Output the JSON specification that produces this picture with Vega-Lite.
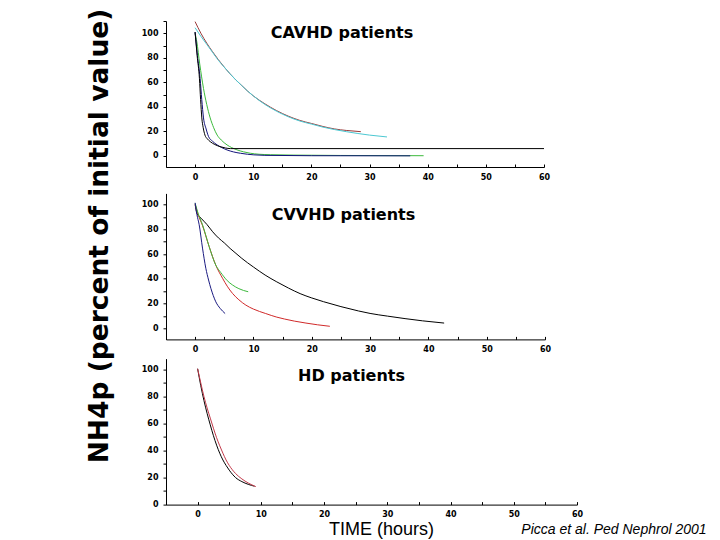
{
  "$schema": "https://vega.github.io/schema/vega-lite/v6.json",
  "background": "white",
  "padding": {"left": 85, "top": 8, "right": 5, "bottom": 3},
  "bounds": "flush",
  "spacing": 18.3,
  "resolve": {"scale": {"color": "independent"}},
  "config": {
    "view": {"stroke": null},
    "line": {"strokeWidth": 1, "interpolate": "monotone"},
    "axis": {
      "grid": false,
      "domainColor": "black",
      "domainWidth": 1,
      "tickColor": "black",
      "tickWidth": 1,
      "labelFont": "DejaVu Sans",
      "labelFontWeight": "bold",
      "labelFontSize": 8,
      "labelColor": "black",
      "labelFlush": false,
      "labelOverlap": false
    },
    "axisX": {"tickSize": -3, "labelPadding": 9},
    "axisY": {"tickSize": 3, "labelPadding": 5}
  },
  "datasets": {
    "cavhd": [
      {"series": "P3", "t": 0, "v": 100}, {"series": "P3", "t": 0.3, "v": 93}, {"series": "P3", "t": 0.8, "v": 75}, {"series": "P3", "t": 1.45, "v": 55}, {"series": "P3", "t": 2, "v": 42}, {"series": "P3", "t": 2.6, "v": 31}, {"series": "P3", "t": 3.2, "v": 23}, {"series": "P3", "t": 3.8, "v": 17}, {"series": "P3", "t": 4.5, "v": 13}, {"series": "P3", "t": 5.5, "v": 9}, {"series": "P3", "t": 6.3, "v": 6.8}, {"series": "P3", "t": 7.2, "v": 5}, {"series": "P3", "t": 8.3, "v": 3.4}, {"series": "P3", "t": 9.5, "v": 2.2}, {"series": "P3", "t": 11, "v": 1.4}, {"series": "P3", "t": 13, "v": 1}, {"series": "P3", "t": 17, "v": 0.7}, {"series": "P3", "t": 25, "v": 0.4}, {"series": "P3", "t": 39.3, "v": 0.2},
      {"series": "P4", "t": 0, "v": 101}, {"series": "P4", "t": 0.4, "v": 82}, {"series": "P4", "t": 0.87, "v": 63}, {"series": "P4", "t": 1.15, "v": 46}, {"series": "P4", "t": 1.45, "v": 31}, {"series": "P4", "t": 1.9, "v": 22}, {"series": "P4", "t": 2.3, "v": 16}, {"series": "P4", "t": 3, "v": 12}, {"series": "P4", "t": 3.8, "v": 9}, {"series": "P4", "t": 4.6, "v": 6.8}, {"series": "P4", "t": 5.5, "v": 4.9}, {"series": "P4", "t": 6.6, "v": 3.3}, {"series": "P4", "t": 7.8, "v": 2.2}, {"series": "P4", "t": 9, "v": 1.4}, {"series": "P4", "t": 10.1, "v": 0.9}, {"series": "P4", "t": 12, "v": 0.5}, {"series": "P4", "t": 20, "v": 0.2}, {"series": "P4", "t": 37, "v": 0.1},
      {"series": "P5", "t": 0, "v": 101}, {"series": "P5", "t": 0.35, "v": 82}, {"series": "P5", "t": 0.75, "v": 63}, {"series": "P5", "t": 0.95, "v": 46}, {"series": "P5", "t": 1.16, "v": 31}, {"series": "P5", "t": 1.4, "v": 23}, {"series": "P5", "t": 1.7, "v": 17}, {"series": "P5", "t": 2.1, "v": 14}, {"series": "P5", "t": 2.6, "v": 11.7}, {"series": "P5", "t": 3.4, "v": 9.3}, {"series": "P5", "t": 4.3, "v": 7.6}, {"series": "P5", "t": 5.2, "v": 6.5}, {"series": "P5", "t": 6.1, "v": 6}, {"series": "P5", "t": 60, "v": 6},
      {"series": "P1", "t": 0, "v": 109.5}, {"series": "P1", "t": 1, "v": 100}, {"series": "P1", "t": 2, "v": 92}, {"series": "P1", "t": 3, "v": 85}, {"series": "P1", "t": 4, "v": 78.5}, {"series": "P1", "t": 5, "v": 72.5}, {"series": "P1", "t": 6, "v": 67}, {"series": "P1", "t": 7, "v": 62}, {"series": "P1", "t": 8, "v": 57.5}, {"series": "P1", "t": 9, "v": 53}, {"series": "P1", "t": 10, "v": 49}, {"series": "P1", "t": 12, "v": 42.5}, {"series": "P1", "t": 14, "v": 37}, {"series": "P1", "t": 16, "v": 32.5}, {"series": "P1", "t": 18, "v": 29}, {"series": "P1", "t": 20, "v": 26.5}, {"series": "P1", "t": 22, "v": 24}, {"series": "P1", "t": 24, "v": 22}, {"series": "P1", "t": 26, "v": 20.8}, {"series": "P1", "t": 28.5, "v": 19.8},
      {"series": "P2", "t": 0, "v": 104.5}, {"series": "P2", "t": 1, "v": 97.5}, {"series": "P2", "t": 2, "v": 91}, {"series": "P2", "t": 3, "v": 84.5}, {"series": "P2", "t": 4, "v": 78}, {"series": "P2", "t": 5, "v": 72.5}, {"series": "P2", "t": 6, "v": 67}, {"series": "P2", "t": 7, "v": 62}, {"series": "P2", "t": 8, "v": 57.5}, {"series": "P2", "t": 9, "v": 53}, {"series": "P2", "t": 10, "v": 49}, {"series": "P2", "t": 12, "v": 42}, {"series": "P2", "t": 14, "v": 36.5}, {"series": "P2", "t": 16, "v": 32}, {"series": "P2", "t": 18, "v": 28.5}, {"series": "P2", "t": 20, "v": 26}, {"series": "P2", "t": 22, "v": 23.5}, {"series": "P2", "t": 24, "v": 21.5}, {"series": "P2", "t": 26, "v": 19.8}, {"series": "P2", "t": 28, "v": 18.3}, {"series": "P2", "t": 30, "v": 17}, {"series": "P2", "t": 33, "v": 15.5}
    ],
    "cvvhd": [
      {"series": "P4", "t": 0, "v": 100}, {"series": "P4", "t": 0.3, "v": 93}, {"series": "P4", "t": 1, "v": 89}, {"series": "P4", "t": 2, "v": 84}, {"series": "P4", "t": 3, "v": 78}, {"series": "P4", "t": 4, "v": 73}, {"series": "P4", "t": 5, "v": 69}, {"series": "P4", "t": 6, "v": 64.5}, {"series": "P4", "t": 7, "v": 60.5}, {"series": "P4", "t": 8, "v": 56.5}, {"series": "P4", "t": 10, "v": 49.5}, {"series": "P4", "t": 12, "v": 43}, {"series": "P4", "t": 14, "v": 37.5}, {"series": "P4", "t": 16, "v": 32.5}, {"series": "P4", "t": 18, "v": 28}, {"series": "P4", "t": 20, "v": 24.5}, {"series": "P4", "t": 22, "v": 21.5}, {"series": "P4", "t": 25, "v": 17.5}, {"series": "P4", "t": 28, "v": 14}, {"series": "P4", "t": 30, "v": 12}, {"series": "P4", "t": 33, "v": 9.8}, {"series": "P4", "t": 36, "v": 7.8}, {"series": "P4", "t": 39, "v": 6}, {"series": "P4", "t": 42.7, "v": 4.2},
      {"series": "P3", "t": 0, "v": 100}, {"series": "P3", "t": 0.5, "v": 92}, {"series": "P3", "t": 1.26, "v": 83}, {"series": "P3", "t": 2.4, "v": 66}, {"series": "P3", "t": 3.54, "v": 51}, {"series": "P3", "t": 4.7, "v": 40.4}, {"series": "P3", "t": 5.5, "v": 34}, {"series": "P3", "t": 6.4, "v": 28.2}, {"series": "P3", "t": 7.5, "v": 23}, {"series": "P3", "t": 8.7, "v": 18.7}, {"series": "P3", "t": 10, "v": 15.5}, {"series": "P3", "t": 12.1, "v": 11.9}, {"series": "P3", "t": 14, "v": 9}, {"series": "P3", "t": 15.3, "v": 7.5}, {"series": "P3", "t": 17, "v": 5.8}, {"series": "P3", "t": 19, "v": 4.2}, {"series": "P3", "t": 21, "v": 2.8}, {"series": "P3", "t": 23.1, "v": 1.6},
      {"series": "P2", "t": 0, "v": 101}, {"series": "P2", "t": 0.5, "v": 93}, {"series": "P2", "t": 1.26, "v": 83.7}, {"series": "P2", "t": 2.4, "v": 66}, {"series": "P2", "t": 3.54, "v": 51}, {"series": "P2", "t": 4.4, "v": 45}, {"series": "P2", "t": 5.5, "v": 38.5}, {"series": "P2", "t": 6.4, "v": 35}, {"series": "P2", "t": 7.5, "v": 32}, {"series": "P2", "t": 9.1, "v": 29.5},
      {"series": "P1", "t": 0, "v": 101.4}, {"series": "P1", "t": 0.3, "v": 92}, {"series": "P1", "t": 0.69, "v": 83.7}, {"series": "P1", "t": 1.26, "v": 64.8}, {"series": "P1", "t": 1.83, "v": 48.5}, {"series": "P1", "t": 2.3, "v": 39}, {"series": "P1", "t": 2.7, "v": 32.2}, {"series": "P1", "t": 3.1, "v": 26.5}, {"series": "P1", "t": 3.54, "v": 21.4}, {"series": "P1", "t": 4.3, "v": 16}, {"series": "P1", "t": 5.14, "v": 11.9}
    ],
    "hd": [
      {"series": "P1", "t": 0, "v": 100.5}, {"series": "P1", "t": 0.5, "v": 88}, {"series": "P1", "t": 1, "v": 77}, {"series": "P1", "t": 1.5, "v": 67.5}, {"series": "P1", "t": 2, "v": 59}, {"series": "P1", "t": 2.5, "v": 51}, {"series": "P1", "t": 3, "v": 44}, {"series": "P1", "t": 3.5, "v": 38}, {"series": "P1", "t": 4, "v": 33}, {"series": "P1", "t": 4.5, "v": 29}, {"series": "P1", "t": 5, "v": 25.5}, {"series": "P1", "t": 6, "v": 20}, {"series": "P1", "t": 7, "v": 17}, {"series": "P1", "t": 8, "v": 15}, {"series": "P1", "t": 9, "v": 13.6},
      {"series": "P2", "t": 0, "v": 100.5}, {"series": "P2", "t": 0.5, "v": 90}, {"series": "P2", "t": 1, "v": 80}, {"series": "P2", "t": 1.5, "v": 71.5}, {"series": "P2", "t": 2, "v": 64}, {"series": "P2", "t": 2.5, "v": 56.5}, {"series": "P2", "t": 3, "v": 49.5}, {"series": "P2", "t": 3.5, "v": 43.5}, {"series": "P2", "t": 4, "v": 38}, {"series": "P2", "t": 4.5, "v": 33}, {"series": "P2", "t": 5, "v": 29}, {"series": "P2", "t": 6, "v": 23}, {"series": "P2", "t": 7, "v": 19}, {"series": "P2", "t": 8, "v": 16}, {"series": "P2", "t": 9.2, "v": 13.3}
    ]
  },
  "title": {
    "text": "Picca et al. Ped Nephrol 2001",
    "orient": "bottom",
    "anchor": "end",
    "frame": "bounds",
    "offset": -5,
    "baseline": "alphabetic",
    "dx": 124,
    "font": "Liberation Sans",
    "fontSize": 14,
    "fontStyle": "italic",
    "fontWeight": "normal",
    "color": "black"
  },
  "vconcat": [
    {
      "width": 378,
      "height": 146,
      "data": {"name": "cavhd"},
      "title": {"text": "CAVHD patients", "anchor": "middle", "frame": "group", "offset": -46, "baseline": "alphabetic", "dx": -13, "font": "DejaVu Sans", "fontSize": 16, "fontWeight": "bold", "color": "black"},
      "mark": {"type": "line", "clip": true},
      "encoding": {
        "x": {"field": "t", "type": "quantitative", "scale": {"domain": [-5, 60], "nice": false, "zero": false},
              "axis": {"title": null, "values": [-5, 0, 5, 10, 15, 20, 25, 30, 35, 40, 45, 50, 55, 60], "labelExpr": "datum.value % 10 == 0 ? datum.label : ''"}},
        "y": {"field": "v", "type": "quantitative", "scale": {"domain": [-9, 110], "nice": false, "zero": false},
              "axis": {"title": "NH4p (percent of initial value)", "titleFont": "DejaVu Sans", "titleFontSize": 26.5, "titleFontWeight": "bold", "titleColor": "black", "titleAngle": -90, "titleX": -59, "titleY": 214.5, "titleAlign": "center", "titleBaseline": "alphabetic",
                       "values": [0, 10, 20, 30, 40, 50, 60, 70, 80, 90, 100, 110], "labelExpr": "datum.value % 20 == 0 ? datum.label : ''"}},
        "color": {"field": "series", "type": "nominal", "legend": null,
                  "scale": {"domain": ["P1", "P2", "P3", "P4", "P5"], "range": ["#9a3a3a", "#4cc8d2", "#3cba3c", "#12127a", "#000000"]}},
        "order": {"field": "t", "type": "quantitative"}
      }
    },
    {
      "width": 379,
      "height": 154.1,
      "data": {"name": "cvvhd"},
      "title": {"text": "CVVHD patients", "anchor": "middle", "frame": "group", "offset": -51, "baseline": "alphabetic", "dx": -12, "font": "DejaVu Sans", "fontSize": 16, "fontWeight": "bold", "color": "black"},
      "mark": {"type": "line", "clip": true},
      "encoding": {
        "x": {"field": "t", "type": "quantitative", "scale": {"domain": [-5, 60], "nice": false, "zero": false},
              "axis": {"title": null, "values": [-5, 0, 5, 10, 15, 20, 25, 30, 35, 40, 45, 50, 55, 60], "labelExpr": "datum.value % 10 == 0 ? datum.label : ''"}},
        "y": {"field": "v", "type": "quantitative", "scale": {"domain": [-9, 109], "range": [154.1, 8.1], "nice": false, "zero": false},
              "axis": {"title": null, "values": [0, 10, 20, 30, 40, 50, 60, 70, 80, 90, 100], "labelExpr": "datum.value % 20 == 0 ? datum.label : ''"}},
        "color": {"field": "series", "type": "nominal", "legend": null,
                  "scale": {"domain": ["P1", "P2", "P3", "P4"], "range": ["#1a1a80", "#3cb83c", "#d02a2a", "#000000"]}},
        "order": {"field": "t", "type": "quantitative"}
      }
    },
    {
      "width": 411,
      "height": 146,
      "data": {"name": "hd"},
      "title": {"text": "HD patients", "anchor": "middle", "frame": "group", "offset": -38, "baseline": "alphabetic", "dx": -20, "font": "DejaVu Sans", "fontSize": 16, "fontWeight": "bold", "color": "black"},
      "mark": {"type": "line", "clip": true},
      "encoding": {
        "x": {"field": "t", "type": "quantitative", "scale": {"domain": [-5, 60], "nice": false, "zero": false},
              "axis": {"title": "TIME (hours)", "titleFont": "Liberation Sans", "titleFontSize": 18, "titleFontWeight": "normal", "titleColor": "black", "titleX": 215, "titleY": 30, "titleBaseline": "alphabetic", "titleAlign": "center",
                       "values": [-5, 0, 5, 10, 15, 20, 25, 30, 35, 40, 45, 50, 55, 60], "labelExpr": "datum.value % 10 == 0 ? datum.label : ''"}},
        "y": {"field": "v", "type": "quantitative", "scale": {"domain": [0, 108], "nice": false, "zero": false},
              "axis": {"title": null, "values": [0, 10, 20, 30, 40, 50, 60, 70, 80, 90, 100], "labelExpr": "datum.value % 20 == 0 ? datum.label : ''"}},
        "color": {"field": "series", "type": "nominal", "legend": null,
                  "scale": {"domain": ["P1", "P2"], "range": ["#000000", "#c23a4a"]}},
        "order": {"field": "t", "type": "quantitative"}
      }
    }
  ]
}
